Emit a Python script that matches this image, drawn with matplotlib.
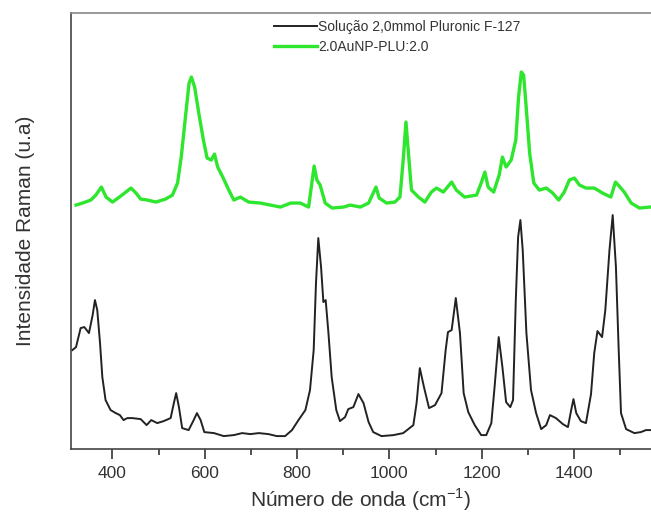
import matplotlib.pyplot as plt
from matplotlib.ticker import MultipleLocator

plt.rcParams['font.family'] = ['Liberation Sans', 'DejaVu Sans']

# pluronic solution (black)
wn_plu = [313, 321, 331, 339, 349, 357, 362, 367, 373, 378, 385, 396, 407, 416, 424, 432,
          443, 461, 474, 484, 497, 511, 526, 533, 538, 544, 551, 565, 576, 583, 591, 599,
          620, 641, 663, 681, 699, 717, 738, 756, 774, 789, 803, 818, 828, 836, 841, 846,
          852, 857, 862, 868, 875, 885, 893, 904, 911, 922, 933, 944, 955, 965, 983, 1009,
          1030, 1052, 1059, 1066, 1075, 1086, 1099, 1113, 1122, 1127, 1135, 1144, 1153,
          1161, 1171, 1185, 1199, 1210, 1221, 1228, 1237, 1245, 1253, 1262, 1268, 1274,
          1279, 1284, 1289, 1297, 1307, 1318, 1329, 1340, 1348, 1361, 1376, 1387, 1394,
          1399, 1405, 1415, 1426, 1437, 1444, 1451, 1461, 1468, 1477, 1484, 1491, 1497,
          1502, 1513, 1531, 1545, 1556, 1566]
int_plu = [99, 102, 121, 122, 116, 134, 149, 139, 106, 72, 49, 39, 36, 34, 29, 31,
           31, 30, 24, 29, 26, 28, 31, 46, 56, 42, 21, 19, 29, 36, 29, 17,
           16, 13, 14, 16, 15, 16, 15, 13, 13, 19, 29, 39, 59, 99, 166, 211,
           182, 147, 149, 116, 72, 39, 28, 32, 40, 42, 55, 46, 27, 17, 13, 14,
           16, 24, 46, 81, 62, 41, 44, 56, 99, 117, 119, 151, 116,
           56, 37, 24, 14, 14, 26, 62, 112, 82, 47, 42, 49, 149,
           212, 229, 199, 116, 59, 36, 20, 24, 34, 31, 25, 22, 39,
           50, 36, 28, 26, 55, 96, 118, 112, 139, 199, 234, 182, 99,
           36, 20, 16, 17, 19, 19]

# AuNP-PLU (green)
wn_au = [321, 335, 353, 364, 376, 386, 400, 415, 429, 440, 451, 461, 476, 494, 515, 530,
         541, 549, 559, 566, 571, 578, 587, 597, 605, 614, 621, 628, 640, 652, 663, 677,
         695, 721, 742, 764, 786, 807, 825, 832, 837, 843, 850, 861, 876, 901, 915, 937,
         955, 965, 971, 978, 994, 1012, 1023, 1030, 1036, 1042, 1048, 1063, 1077, 1091,
         1102, 1117, 1135, 1145, 1163, 1189, 1199, 1207, 1214, 1226, 1238, 1245, 1253,
         1264, 1274, 1280, 1286, 1291, 1297, 1304, 1313, 1325, 1340, 1354, 1367, 1379,
         1390, 1401, 1412, 1426, 1444, 1462, 1480, 1490, 1498, 1509, 1524, 1542, 1565]
int_au = [244, 246, 249, 254, 262, 252, 247, 252, 257, 261, 256, 250, 249, 247, 250, 254,
          266, 292, 336, 366, 372, 362, 336, 309, 291, 289, 295, 282, 271, 259, 249, 252,
          247, 246, 244, 242, 246, 246, 242, 266, 283, 269, 264, 246, 241, 242, 244, 242,
          246, 256, 262, 251, 246, 247, 252, 289, 327, 292, 259, 252, 247, 257,
          261, 257, 267, 259, 252, 254, 266, 277, 262, 257, 274, 292, 282,
          289, 309, 352, 377, 374, 339, 296, 266, 259, 261, 256, 249, 257,
          269, 271, 264, 261, 261, 256, 252, 267, 263, 257, 246, 241, 242]

fig = plt.figure(figsize=(6.51, 5.21), dpi=100)
ax = fig.add_axes([0.109, 0.138, 0.891, 0.837])

ax.plot(wn_plu, int_plu, color='#222222', lw=1.4, label='Solução 2,0mmol Pluronic F-127')
ax.plot(wn_au, int_au, color='#2ee62e', lw=2.4, label='2.0AuNP-PLU:2.0')

ax.set_xlim(310, 1567)
ax.set_ylim(0, 436)
ax.xaxis.set_major_locator(MultipleLocator(200))
ax.xaxis.set_minor_locator(MultipleLocator(100))
ax.set_yticks([])
ax.tick_params(axis='x', which='major', direction='out', length=7, width=1.2,
               color='#333333', labelsize=12.5, labelcolor='#333333', pad=5)
ax.tick_params(axis='x', which='minor', direction='out', length=4, width=1.2, color='#333333')
ax.spines['right'].set_visible(False)
ax.spines['top'].set_color('#888888')
ax.spines['left'].set_color('#444444')
ax.spines['bottom'].set_color('#444444')
for s in ['top', 'left', 'bottom']:
    ax.spines[s].set_linewidth(1.2)

ax.set_xlabel('Número de onda (cm$^{\\mathregular{-1}}$)', fontsize=15, color='#333333', labelpad=4)
ax.set_ylabel('Intensidade Raman (u.a)', fontsize=15, color='#333333', labelpad=26)

ax.legend(loc='upper left', bbox_to_anchor=(0.41, 0.975), bbox_transform=fig.transFigure,
          frameon=False, fontsize=10, handlelength=3.1, handletextpad=0.1,
          borderpad=0, labelspacing=0.45, labelcolor='#333333')

fig.savefig('out.png', dpi=100)
